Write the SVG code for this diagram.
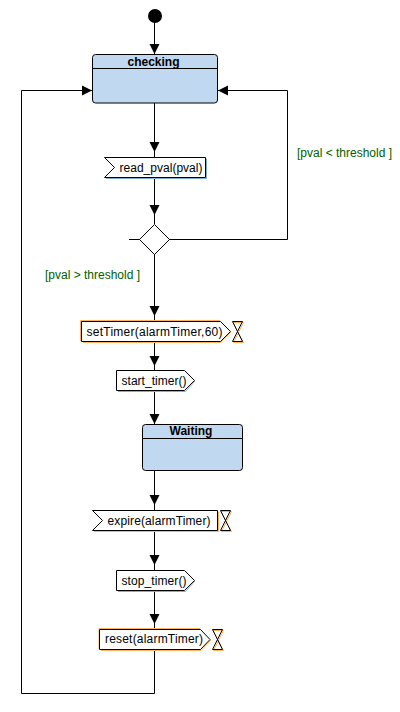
<svg xmlns="http://www.w3.org/2000/svg" width="400" height="712" viewBox="0 0 400 712">
<style>
text{font-family:"Liberation Sans",Arial,sans-serif;fill:#000;font-size:12px}
.b{font-weight:bold;text-anchor:middle;font-size:12px}
.g{fill:#006000;font-size:12px}
.st{fill:#c0d8f0;stroke:#000;stroke-width:1}
.ln{fill:none;stroke:#000;stroke-width:1}
.n{fill:#fff;stroke:#000;stroke-width:1}
.so{fill:none;stroke:#ffb060;stroke-width:1}
.sb{fill:none;stroke:#7fb0d0;stroke-width:1}
</style>
<defs>
<marker id="a" markerUnits="userSpaceOnUse" markerWidth="11" markerHeight="11" refX="10" refY="5.500" orient="auto"><path d="M0 0.500L10 5.500L0 10.500Z" fill="#000"/></marker>
</defs>
<g id="connectors">
<path class="ln" d="M154.500 22V54" marker-end="url(#a)"/>
<path class="ln" d="M154.500 103V152" marker-end="url(#a)"/>
<path class="ln" d="M154.500 152V157"/>
<path class="ln" d="M154.500 178V215" marker-end="url(#a)"/>
<path class="ln" d="M154.500 215V224"/>
<path class="ln" d="M129 239.500H287.500V90.500H218" marker-end="url(#a)"/>
<path class="ln" d="M154.500 254V316" marker-end="url(#a)"/>
<path class="ln" d="M154.500 316V321"/>
<path class="ln" d="M154.500 342V366" marker-end="url(#a)"/>
<path class="ln" d="M154.500 366V370"/>
<path class="ln" d="M154.500 391V424" marker-end="url(#a)"/>
<path class="ln" d="M154.500 470V505" marker-end="url(#a)"/>
<path class="ln" d="M154.500 505V510"/>
<path class="ln" d="M154.500 531V565" marker-end="url(#a)"/>
<path class="ln" d="M154.500 565V570"/>
<path class="ln" d="M154.500 591V624" marker-end="url(#a)"/>
<path class="ln" d="M154.500 624V629"/>
<path class="ln" d="M154.500 650V693.500H21.500V90.500H92" marker-end="url(#a)"/>
</g>
<g id="start"><circle cx="155" cy="16" r="7" fill="#000"/></g>
<g id="checking"><rect class="st" x="92.500" y="54.500" width="125" height="48.500" rx="3"/><path class="ln" d="M92.500 68.500H217.500"/><text class="b" x="153.500" y="65.500">checking</text></g>
<g id="read_pval"><path class="sb" d="M106 178.500H206.500V158.500"/><path class="n" d="M104.500 157.500H205.500V177.500H104.500L114.500 167.500Z"/><text x="119.500" y="172" textLength="83" lengthAdjust="spacing">read_pval(pval)</text></g>
<g id="decision"><path class="n" d="M154.500 224.500L169.500 239.500L154.500 254.500L139.500 239.500Z"/></g>
<g id="setTimer"><path class="so" d="M83 342.500H220.500L231 332"/><path class="so" d="M80.500 341V320.500H220"/><path class="n" d="M81.500 321.500H220.500L230.500 331.500L220.500 341.500H81.500Z"/><text x="86.500" y="336" textLength="136" lengthAdjust="spacing">setTimer(alarmTimer,60)</text>
<path class="so" d="M233 322.500H243.500L233.500 342.500H243.500Z"/><path class="ln" d="M232.500 321.500H242.500L232.500 341.500H242.500Z"/></g>
<g id="start_timer"><path class="sb" d="M118 391.500H185.500L195 381"/><path class="n" d="M116.500 370.500H184.500L194.500 380.500L184.500 390.500H116.500Z"/><text x="121.500" y="385" textLength="65" lengthAdjust="spacing">start_timer()</text></g>
<g id="waiting"><rect class="st" x="142.500" y="424.500" width="100" height="46" rx="3"/><path class="ln" d="M142.500 438.500H242.500"/><text class="b" x="191" y="435">Waiting</text></g>
<g id="expire"><path class="so" d="M94 531.500H218.500V511.500"/><path class="n" d="M92.500 510.500H217.500V530.500H92.500L102.500 520.500Z"/><text x="107.500" y="525" textLength="103" lengthAdjust="spacing">expire(alarmTimer)</text>
<path class="so" d="M221 511.500H231.500L221.500 531.500H231.500Z"/><path class="ln" d="M220.500 510.500H230.500L220.500 530.500H230.500Z"/></g>
<g id="stop_timer"><path class="sb" d="M118 591.500H185.500L195 581"/><path class="n" d="M116.500 570.500H184.500L194.500 580.500L184.500 590.500H116.500Z"/><text x="121.500" y="585" textLength="65" lengthAdjust="spacing">stop_timer()</text></g>
<g id="reset"><path class="so" d="M101 650.500H201L211 640"/><path class="so" d="M99 649V628.500H200"/><path class="n" d="M99.500 629.500H200.500L210 639.500L200.500 649.500H99.500Z"/><text x="105" y="643" textLength="98" lengthAdjust="spacing">reset(alarmTimer)</text>
<path class="so" d="M213 630.500H223.500L213.500 650.500H223.500Z"/><path class="ln" d="M212.500 629.500H222.500L212.500 649.500H222.500Z"/></g>
<g id="labels"><text class="g" x="297" y="157" textLength="95" lengthAdjust="spacing">[pval &lt; threshold ]</text><text class="g" x="45" y="279" textLength="95" lengthAdjust="spacing">[pval &gt; threshold ]</text></g>
</svg>
